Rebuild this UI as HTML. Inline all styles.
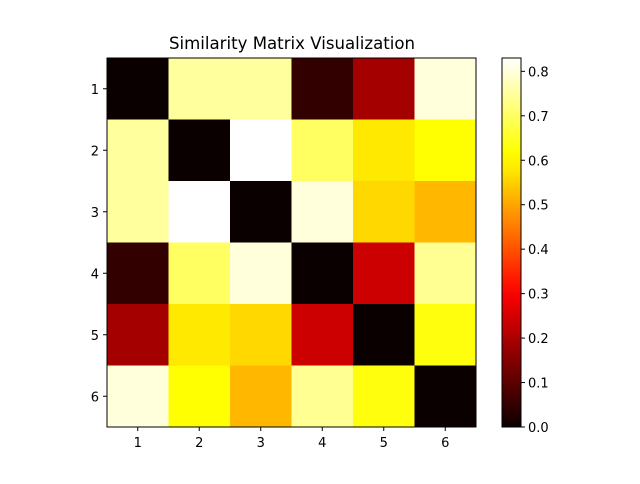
<!DOCTYPE html>
<html><head><meta charset="utf-8"><style>
body{margin:0;background:#fff;font-family:"DejaVu Sans","Liberation Sans",sans-serif}
</style></head><body>
<svg id="chart" width="640" height="480" xmlns="http://www.w3.org/2000/svg" font-family="DejaVu Sans, Liberation Sans, sans-serif">
<rect width="640" height="480" fill="#fff"/>
<text x="292" y="49" font-size="16.6" text-anchor="middle">Similarity Matrix Visualization</text>
<g id="cells"></g>
<g id="axes"></g>
<defs><linearGradient id="hotgrad" x1="0" y1="1" x2="0" y2="0">
</linearGradient></defs>
<g id="cbar"></g>
</svg>
<script>
const labels = ["1","2","3","4","5","6"];
const matrix = [
 [0.00,0.75,0.75,0.05,0.19,0.80],
 [0.75,0.00,0.83,0.70,0.58,0.62],
 [0.75,0.83,0.00,0.80,0.56,0.52],
 [0.05,0.70,0.80,0.00,0.24,0.74],
 [0.19,0.58,0.56,0.24,0.00,0.63],
 [0.80,0.62,0.52,0.74,0.63,0.00]
];
const cbarTicks = [0.0,0.1,0.2,0.3,0.4,0.5,0.6,0.7,0.8];
const NS="http://www.w3.org/2000/svg";
const x0=107,y0=58,W=369,H=369,n=labels.length,cw=W/n,ch=H/n;
let vmin=Infinity,vmax=-Infinity;
matrix.forEach(r=>r.forEach(v=>{vmin=Math.min(vmin,v);vmax=Math.max(vmax,v);}));
function hot(t){t=Math.max(0,Math.min(1,t));
 const r=0.0416+(1-0.0416)*Math.min(1,t/0.365079),g=Math.max(0,Math.min(1,(t-0.365079)/0.365079)),b=Math.max(0,Math.min(1,(t-0.746032)/0.253968));
 return `rgb(${Math.round(r*255)},${Math.round(g*255)},${Math.round(b*255)})`;}
function el(tag,attrs,parent){const e=document.createElementNS(NS,tag);for(const k in attrs)e.setAttribute(k,attrs[k]);parent.appendChild(e);return e;}
const cells=document.getElementById('cells'),axes=document.getElementById('axes'),cb=document.getElementById('cbar');
const xs=i=>x0+i*cw, ys=j=>y0+j*ch;
matrix.forEach((row,j)=>row.forEach((v,i)=>{
 const r=el('rect',{x:xs(i),y:ys(j),width:cw+0.5,height:ch+0.5,fill:hot((v-vmin)/(vmax-vmin))},cells);
 
 
}));
const frame=el('rect',{x:x0,y:y0,width:W,height:H,fill:'none',stroke:'#000','stroke-width':1},axes);


labels.forEach((l,i)=>{
 const cx=xs(i)+cw/2, cy=ys(i)+ch/2;
 el('line',{x1:cx,y1:y0+H,x2:cx,y2:y0+H+4,stroke:'#000'},axes);
 const t=el('text',{x:cx,y:y0+H+20,'font-size':13,'text-anchor':'middle'},axes);t.textContent=l;
 
 
 el('line',{x1:x0-4,y1:cy,x2:x0,y2:cy,stroke:'#000'},axes);
 const t2=el('text',{x:x0-8,y:cy+5,'font-size':13,'text-anchor':'end'},axes);t2.textContent=l;
 
 
});
const g=document.getElementById('hotgrad');
for(let k=0;k<=20;k++){el('stop',{offset:k/20,'stop-color':hot(k/20)},g);}
const bx=502,by=58,bw=19,bh=369;
const bar=el('rect',{x:bx,y:by,width:bw,height:bh,fill:'url(#hotgrad)',stroke:'#000','stroke-width':1},cb);


cbarTicks.forEach(v=>{
 const y=by+bh-(v-vmin)/(vmax-vmin)*bh;
 el('line',{x1:bx+bw,y1:y,x2:bx+bw+4,y2:y,stroke:'#000'},cb);
 const t=el('text',{x:bx+bw+7,y:y+5,'font-size':13},cb);t.textContent=v.toFixed(1);
 
 
});
</script>
</body></html>
